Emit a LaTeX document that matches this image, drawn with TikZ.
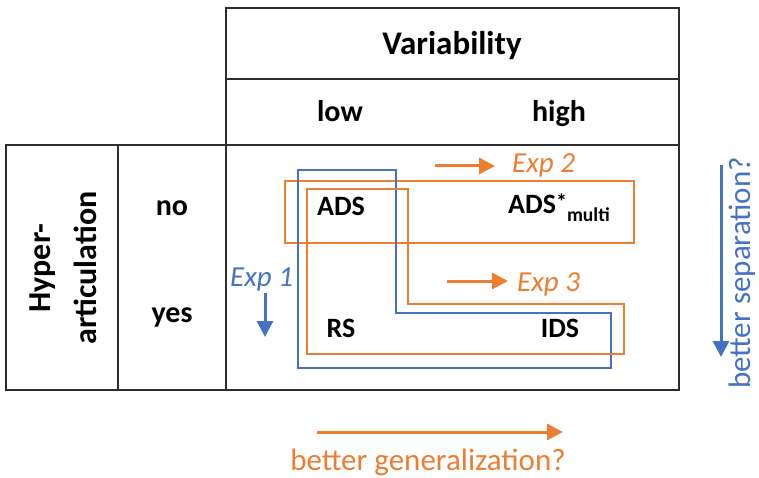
\documentclass[tikz,border=0pt]{standalone}
\usepackage{fontspec}
\setmainfont{Carlito}
\usetikzlibrary{arrows.meta, positioning, calc}
\definecolor{myorange}{RGB}{237, 125, 49}
\definecolor{myblue}{RGB}{68, 114, 196}
\definecolor{mygrid}{RGB}{45, 45, 45}

\begin{document}
\begin{tikzpicture}[x=1pt, y=-1pt,
    grid/.style={draw=mygrid, line width=2pt},
    head/.style={font=\bfseries\fontsize{30}{36}\selectfont, inner sep=0pt, anchor=base},
    cell/.style={font=\bfseries\fontsize{28}{34}\selectfont, inner sep=0pt, anchor=base},
    exptext/.style={font=\itshape\fontsize{29}{34}\selectfont, inner sep=0pt, anchor=base west},
    note/.style={font=\fontsize{31}{36}\selectfont, inner sep=0pt, anchor=base},
    obox/.style={draw=myorange, line width=2.5pt},
    bbox/.style={draw=myblue, line width=2.5pt},
    tip/.style={-{Triangle[length=16pt, width=16pt]}, line width=3pt},
    oarrow/.style={tip, draw=myorange},
    barrow/.style={tip, draw=myblue}]
    \useasboundingbox (0,0) rectangle (759,478);
                % Table
                \draw[grid] (226,8) rectangle (679,390);
                \draw[grid] (226,79) -- (679,79);
                \draw[grid] (6,145) rectangle (226,390);
                \draw[grid] (226,145) -- (679,145);
                \draw[grid] (118,145) -- (118,390);
                % Headers
                \node[head, font=\bfseries\fontsize{33}{40}\selectfont] (var) at (452,55) {Variability};
                \node[head] (low) at (340,122) {low};
                \node[head] (high) at (559,122) {high};
                \node[head] (no) at (172,215) {no};
                \node[head] (yes) at (172,322) {yes};
                \node[font=\bfseries\fontsize{32}{46}\selectfont, inner sep=0pt, align=center, rotate=90] (hyper) at (63,268) {Hyper-\\articulation};
                % Groups
                \draw[obox] (285,181) rectangle (634,243);
                \draw[bbox] (298,170) -- (396,170) -- (396,313) -- (611,313) -- (611,368) -- (298,368) -- cycle;
                \draw[obox] (307,189) -- (408,189) -- (408,304) -- (624,304) -- (624,354) -- (307,354) -- cycle;
                % Cells
                \node[cell] (ads) at (341,215) {ADS};
                \node[cell, anchor=base west] (adsm) at (508,214) {ADS\raisebox{4pt}{\fontsize{22}{22}\selectfont *}\raisebox{-8pt}{\fontsize{19.6}{22}\selectfont multi}};
                \node[cell] (rs) at (341,337) {RS};
                \node[cell] (ids) at (560,337) {IDS};
                % Experiments
                \node[exptext, text=myorange] (exp2) at (512,173) {Exp 2};
                \node[exptext, text=myorange] (exp3) at (517,291) {Exp 3};
                \node[exptext, text=myblue] (exp1) at (230,286) {Exp 1};
                \coordinate (e2s) at (435,166);
                \coordinate (e2e) at (495,166);
                \coordinate (e3s) at (447,281);
                \coordinate (e3e) at (508,281);
                \coordinate (e1s) at (265,293);
                \coordinate (e1e) at (265,337);
                \draw[oarrow] (e2s) -- (e2e);
                \draw[oarrow] (e3s) -- (e3e);
                \draw[barrow] (e1s) -- (e1e);
                % Outcomes
                \node[note, text=myorange] (gen) at (428,470) {better generalization?};
                \node[note, text=myblue, rotate=90] (sep) at (750,273) {better separation?};
                \coordinate (gens) at (317,432);
                \coordinate (gene) at (563,432);
                \coordinate (seps) at (721,165);
                \coordinate (sepe) at (721,357);
                \draw[oarrow] (gens) -- (gene);
                \draw[barrow] (seps) -- (sepe);
\end{tikzpicture}
\end{document}
